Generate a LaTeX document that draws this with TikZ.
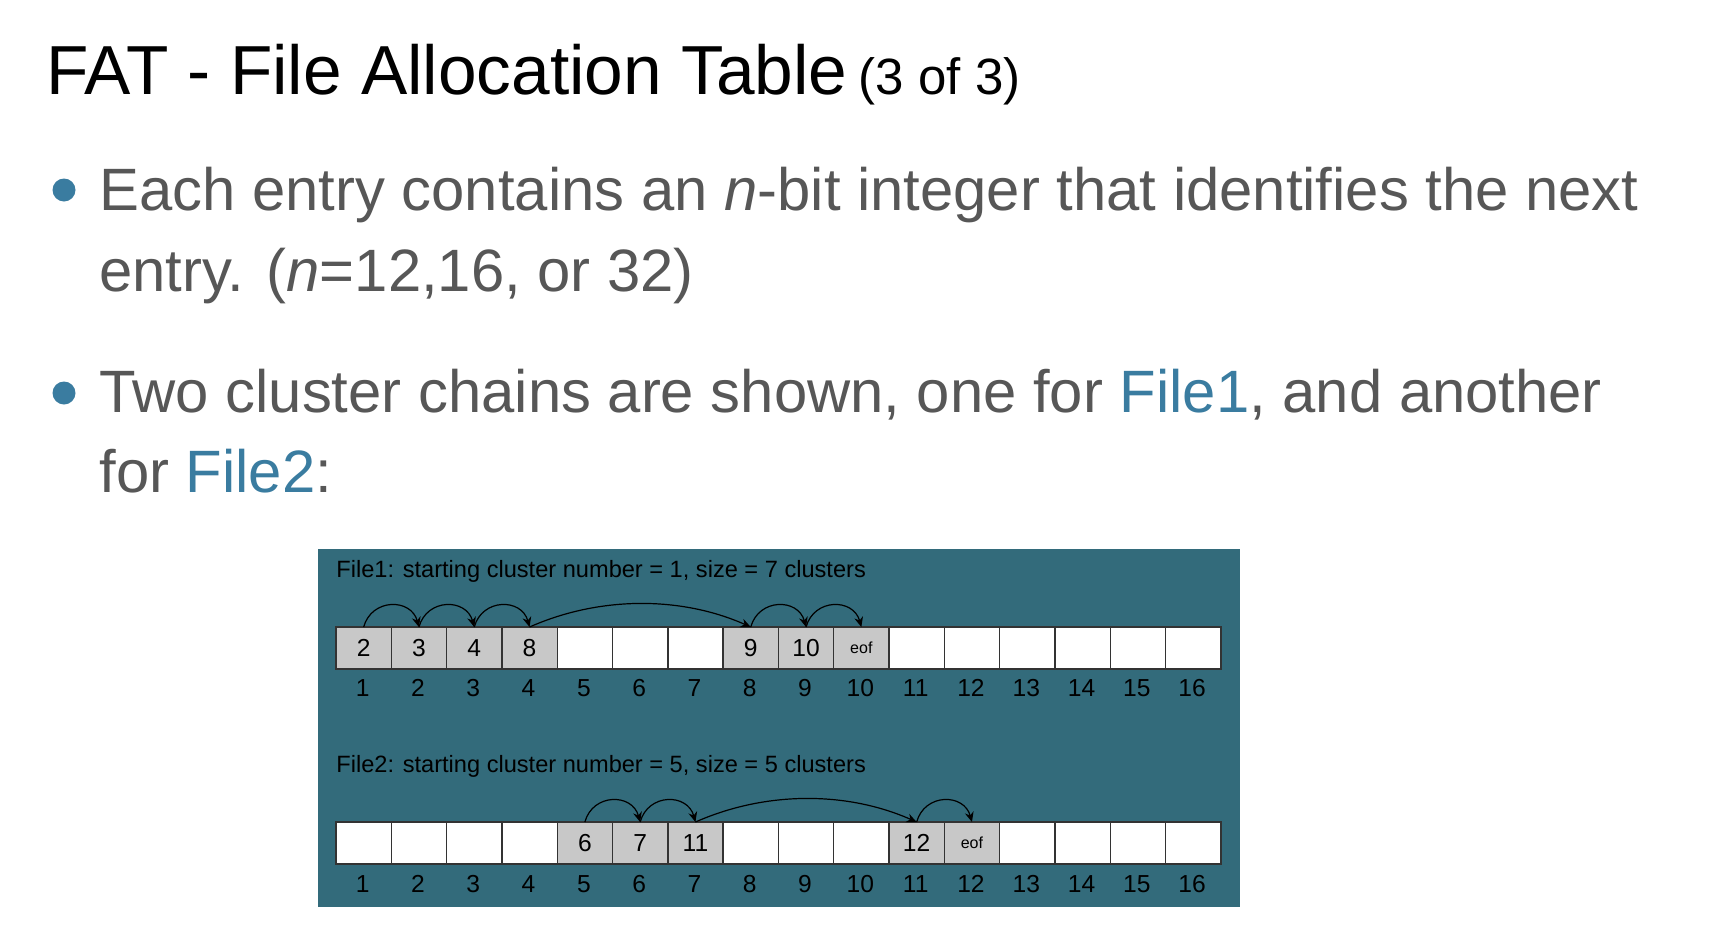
\documentclass[tikz,border=0pt]{standalone}
\usepackage{fontspec}
\setmainfont{Liberation Sans}
\usetikzlibrary{arrows.meta}
\definecolor{txtgray}{HTML}{575757}
\definecolor{bulletblue}{HTML}{3A7CA0}
\definecolor{panelteal}{HTML}{336B7B}
\definecolor{cellgray}{HTML}{C8C8C8}
\definecolor{cellline}{HTML}{333333}
\newcommand{\eofs}{\fontsize{8}{9}\selectfont eof}
\begin{document}
\begin{tikzpicture}[x=0.5pt,y=-0.5pt,
  cellbox/.style={draw=cellline, line width=0.7pt, fill=white, minimum width=27.65pt, minimum height=21pt, inner sep=0pt, outer sep=0pt, font=\fontsize{12.3}{14}\selectfont},
  usedbox/.style={cellbox, fill=cellgray},
  idxlabel/.style={inner sep=0pt, font=\fontsize{12.3}{14}\selectfont, text=black},
  rowtitle/.style={anchor=west, inner sep=0pt, font=\fontsize{11.8}{14}\selectfont, text=black},
  bodytext/.style={anchor=base west, inner sep=0pt, text=txtgray, font=\fontsize{29.9}{36}\selectfont},
  bulletdot/.style={circle, fill=bulletblue, minimum size=11.5pt, inner sep=0pt},
  link/.style={-{Stealth[length=5pt,width=4.4pt]}, line width=0.6pt, black},
]
\useasboundingbox (0,0) rectangle (1722,926);
\fill[white] (0,0) rectangle (1722,926);

% title
\node[anchor=base west, inner sep=0pt, font=\fontsize{34.7}{40}\selectfont] (title) at (46,94)
  {FAT - File Allocation Table{\fontsize{25.5}{30}\selectfont\ \kern-1.3pt(3 of 3)}};

% bullets
\node[bulletdot] (b1) at (64,190) {};
\node[bodytext] (t1a) at (99,210) {Each entry contains an \textit{n}-bit integer that identifies the next};
\node[bodytext] (t1b) at (99,291) {entry. (\textit{n}=12,16, or 32)};
\node[bulletdot] (b2) at (64,393) {};
\node[bodytext] (t2a) at (99,412) {Two cluster chains are shown, one for \textcolor{bulletblue}{File1}, and another};
\node[bodytext] (t2b) at (99,492) {for \textcolor{bulletblue}{File2}:};

% panel
\fill[panelteal] (318,549) rectangle (1240,907);

\node[rowtitle] (f1) at (336,571) {File1: starting cluster number = 1, size = 7 clusters};
\node[rowtitle] (f2) at (336,766) {File2: starting cluster number = 5, size = 5 clusters};

% row 1
\foreach \i/\v/\s in {1/2/usedbox,2/3/usedbox,3/4/usedbox,4/8/usedbox,5//cellbox,6//cellbox,7//cellbox,8/9/usedbox,9/10/usedbox,10/\eofs/usedbox,11//cellbox,12//cellbox,13//cellbox,14//cellbox,15//cellbox,16//cellbox}
  \node[\s] (a\i) at ({336+55.3*(\i-0.5)},648) {\v};
\foreach \i in {1,...,16}
  \node[idxlabel] (ai\i) at ({335+55.3*(\i-0.5)},688) {\i};

% row 2
\foreach \i/\v/\s in {1//cellbox,2//cellbox,3//cellbox,4//cellbox,5/6/usedbox,6/7/usedbox,7/11/usedbox,8//cellbox,9//cellbox,10//cellbox,11/12/usedbox,12/\eofs/usedbox,13//cellbox,14//cellbox,15//cellbox,16//cellbox}
  \node[\s] (b\i) at ({336+55.3*(\i-0.5)},843) {\v};
\foreach \i in {1,...,16}
  \node[idxlabel] (bi\i) at ({335+55.3*(\i-0.5)},884) {\i};

% chains
\foreach \p/\q in {1/2,2/3,3/4,8/9,9/10}
  \draw[link] (a\p.north) .. controls +(8,-29) and +(-8,-29) .. (a\q.north);
\draw[link] (a4.north) .. controls +(70,-31) and +(-70,-31) .. (a8.north);

\foreach \p/\q in {5/6,6/7,11/12}
  \draw[link] (b\p.north) .. controls +(8,-29) and +(-8,-29) .. (b\q.north);
\draw[link] (b7.north) .. controls +(70,-31) and +(-70,-31) .. (b11.north);
\end{tikzpicture}
\end{document}
